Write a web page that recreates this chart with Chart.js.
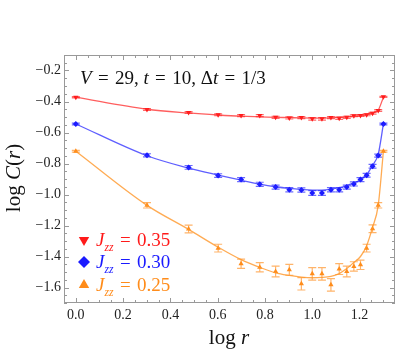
<!DOCTYPE html>
<html>
<head>
<meta charset="utf-8">
<script src="https://cdn.jsdelivr.net/npm/chart.js@4.4.1/dist/chart.umd.min.js"></script>
<style>
  html, body { margin: 0; padding: 0; background: #fff; }
</style>
</head>
<body>
<canvas id="corrChart" width="414" height="359"></canvas>
<script>
// x positions: log r for r = 1..20
const logR = [0, 0.301, 0.477, 0.602, 0.699, 0.778, 0.845, 0.903, 0.954, 1.0,
              1.041, 1.079, 1.114, 1.146, 1.176, 1.204, 1.230, 1.255, 1.279, 1.301];

// Jzz = 0.35 (red)
const redVals = [-0.372, -0.452, -0.471, -0.486, -0.491, -0.491, -0.502, -0.506, -0.504, -0.512,
                 -0.512, -0.504, -0.508, -0.502, -0.492, -0.490, -0.486, -0.476, -0.458, -0.370];
const redErr = [0.004, 0.006, 0.006, 0.006, 0.006, 0.006, 0.007, 0.007, 0.007, 0.008,
                0.008, 0.007, 0.007, 0.007, 0.006, 0.006, 0.006, 0.006, 0.006, 0.004];
const redFit = [-0.372, -0.450, -0.474, -0.487, -0.495, -0.499, -0.502, -0.504, -0.506, -0.507,
                -0.507, -0.505, -0.503, -0.500, -0.496, -0.491, -0.484, -0.472, -0.455, -0.372];

// Jzz = 0.30 (blue)
const blueVals = [-0.545, -0.747, -0.825, -0.878, -0.904, -0.934, -0.952, -0.969, -0.971, -0.990,
                  -0.990, -0.969, -0.969, -0.952, -0.932, -0.904, -0.876, -0.818, -0.749, -0.545];
const blueErr = [0.006, 0.010, 0.012, 0.012, 0.013, 0.013, 0.013, 0.014, 0.014, 0.015,
                 0.015, 0.014, 0.014, 0.013, 0.013, 0.013, 0.012, 0.012, 0.010, 0.006];
const blueFit = [-0.545, -0.750, -0.830, -0.875, -0.908, -0.933, -0.950, -0.961, -0.968, -0.972,
                 -0.972, -0.966, -0.956, -0.942, -0.925, -0.905, -0.872, -0.812, -0.740, -0.545];

// Jzz = 0.25 (orange)
const orangeVals = [-0.721, -1.070, -1.223, -1.346, -1.447, -1.469, -1.497, -1.486, -1.576, -1.512,
                    -1.512, -1.583, -1.481, -1.497, -1.464, -1.454, -1.346, -1.221, -1.070, -0.721];
const orangeErr = [0.006, 0.017, 0.025, 0.025, 0.030, 0.030, 0.035, 0.035, 0.040, 0.040,
                   0.040, 0.040, 0.035, 0.035, 0.030, 0.030, 0.025, 0.025, 0.017, 0.006];
const orangeFit = [-0.721, -1.070, -1.225, -1.340, -1.420, -1.470, -1.505, -1.522, -1.533, -1.537,
                   -1.535, -1.528, -1.510, -1.478, -1.438, -1.400, -1.330, -1.212, -1.070, -0.721];

const xTicks = [0, 0.2, 0.4, 0.6, 0.8, 1.0, 1.2];
const yTicks = [-1.6, -1.4, -1.2, -1.0, -0.8, -0.6, -0.4, -0.2];

const RED = '#ff1a1a', BLUE = '#1a1aff', ORANGE = '#ff8c1a';
const SERIF = '"Liberation Serif", "DejaVu Serif", serif';
const EQ = ' \u200a=\u200a ';

function pts(vals) {
  return logR.map((x, i) => ({ x: x, y: vals[i] }));
}

function fitSet(vals, color) {
  return { data: pts(vals), showLine: true, borderColor: color, borderWidth: 1.3,
           pointRadius: 0, cubicInterpolationMode: 'monotone', fill: false };
}

function dataSet(vals, err, color, style, rot) {
  return { data: pts(vals), err: err, showLine: false, backgroundColor: color, borderColor: color,
           pointStyle: style, rotation: rot, pointRadius: 3, borderWidth: 0 };
}

// draws text made of normal / italic pieces, starting at x
function drawRich(ctx, parts, x, y, size) {
  parts.forEach(p => {
    const sz = p.sub ? size * 0.62 : size;
    ctx.font = (p.i ? 'italic ' : '') + sz + 'px ' + SERIF;
    ctx.fillText(p.t, x, y + (p.sub ? size * 0.25 : 0));
    x += ctx.measureText(p.t).width;
  });
  return x;
}

function richWidth(ctx, parts, size) {
  let w = 0;
  parts.forEach(p => {
    const sz = p.sub ? size * 0.62 : size;
    ctx.font = (p.i ? 'italic ' : '') + sz + 'px ' + SERIF;
    w += ctx.measureText(p.t).width;
  });
  return w;
}

// error bars with caps, behind the markers
const errorBars = {
  id: 'errorBars',
  beforeDatasetsDraw(chart) {
    const ctx = chart.ctx, xs = chart.scales.x, ys = chart.scales.y;
    chart.data.datasets.forEach(ds => {
      if (!ds.err) return;
      ctx.save();
      ctx.strokeStyle = ds.borderColor;
      ctx.globalAlpha = 0.65;
      ctx.lineWidth = 1.2;
      ds.data.forEach((p, i) => {
        const px = xs.getPixelForValue(p.x);
        const top = ys.getPixelForValue(p.y + ds.err[i]);
        const bot = ys.getPixelForValue(p.y - ds.err[i]);
        ctx.beginPath();
        ctx.moveTo(px, top); ctx.lineTo(px, bot);
        ctx.moveTo(px - 4, top); ctx.lineTo(px + 4, top);
        ctx.moveTo(px - 4, bot); ctx.lineTo(px + 4, bot);
        ctx.stroke();
      });
      ctx.restore();
    });
  }
};

// frame with inside ticks, titles, note and legend
const decorations = {
  id: 'decorations',
  afterDraw(chart) {
    const ctx = chart.ctx, a = chart.chartArea, xs = chart.scales.x, ys = chart.scales.y;
    ctx.save();
    ctx.strokeStyle = '#999';
    ctx.lineWidth = 1;
    ctx.strokeRect(a.left + 0.5, a.top + 0.5, a.right - a.left - 1, a.bottom - a.top - 1);

    ctx.beginPath();
    for (let k = 0; k <= 26; k++) {
      const v = k * 0.05;
      const len = k % 4 === 0 ? 5 : 3;
      const px = Math.round(xs.getPixelForValue(v)) + 0.5;
      ctx.moveTo(px, a.bottom); ctx.lineTo(px, a.bottom - len);
      ctx.moveTo(px, a.top); ctx.lineTo(px, a.top + len);
    }
    for (let k = 2; k <= 34; k++) {
      const v = -k * 0.05;
      const len = k % 4 === 0 ? 5 : 3;
      const py = Math.round(ys.getPixelForValue(v)) + 0.5;
      ctx.moveTo(a.left, py); ctx.lineTo(a.left + len, py);
      ctx.moveTo(a.right, py); ctx.lineTo(a.right - len, py);
    }
    ctx.stroke();

    ctx.fillStyle = '#111';
    ctx.textBaseline = 'alphabetic';

    // x axis title
    const xt = [{ t: 'log ' }, { t: 'r', i: true }];
    drawRich(ctx, xt, 229 - richWidth(ctx, xt, 21) / 2, 344, 21);

    // y axis title
    const yt = [{ t: 'log ' }, { t: 'C', i: true }, { t: '(' }, { t: 'r', i: true }, { t: ')' }];
    ctx.save();
    ctx.translate(20, 178);
    ctx.rotate(-Math.PI / 2);
    drawRich(ctx, yt, -richWidth(ctx, yt, 21) / 2, 0, 21);
    ctx.restore();

    // parameter note
    drawRich(ctx, [{ t: 'V', i: true }, { t: EQ + '29, ' }, { t: 't', i: true }, { t: EQ + '10, Δ' },
                   { t: 't', i: true }, { t: EQ + '1/3' }], 80, 84, 19);

    // legend
    const items = [
      { color: RED, style: 'triangle', rot: 180, val: '0.35', y: 246 },
      { color: BLUE, style: 'rectRot', rot: 0, val: '0.30', y: 268 },
      { color: ORANGE, style: 'triangle', rot: 0, val: '0.25', y: 291 }
    ];
    items.forEach(it => {
      ctx.fillStyle = it.color;
      ctx.strokeStyle = it.color;
      Chart.helpers.drawPoint(ctx, { pointStyle: it.style, rotation: it.rot, radius: 6, borderWidth: 0 },
                              84, it.y - 6);
      ctx.fillStyle = it.color;
      drawRich(ctx, [{ t: 'J', i: true }, { t: 'zz', i: true, sub: true }, { t: EQ + it.val }],
               96, it.y, 19);
    });
    ctx.restore();
  }
};

new Chart(document.getElementById('corrChart'), {
  type: 'scatter',
  data: {
    datasets: [
      fitSet(redFit, 'rgba(255,40,40,0.75)'),
      fitSet(blueFit, 'rgba(40,40,255,0.75)'),
      fitSet(orangeFit, 'rgba(255,150,40,0.8)'),
      dataSet(redVals, redErr, RED, 'triangle', 180),
      dataSet(blueVals, blueErr, BLUE, 'rectRot', 0),
      dataSet(orangeVals, orangeErr, ORANGE, 'triangle', 0)
    ]
  },
  options: {
    responsive: false,
    devicePixelRatio: 1,
    animation: false,
    layout: { padding: { top: 55, right: 19, left: 0, bottom: 0 } },
    plugins: { legend: { display: false }, tooltip: { enabled: false } },
    scales: {
      x: {
        type: 'linear', min: -0.05, max: 1.35,
        grid: { display: false, drawTicks: false },
        border: { display: false },
        afterBuildTicks: s => { s.ticks = xTicks.map(v => ({ value: v })); },
        afterFit: s => { s.height = 56; },
        ticks: { padding: 4, color: '#222', font: { family: SERIF, size: 14 },
                 callback: v => v.toFixed(1) }
      },
      y: {
        type: 'linear', min: -1.7, max: -0.1,
        grid: { display: false, drawTicks: false },
        border: { display: false },
        afterBuildTicks: s => { s.ticks = yTicks.map(v => ({ value: v })); },
        afterFit: s => { s.width = 64; },
        ticks: { padding: 3, color: '#222', font: { family: SERIF, size: 14 },
                 callback: v => '\u2212' + Math.abs(v).toFixed(1) }
      }
    }
  },
  plugins: [errorBars, decorations]
});
</script>
</body>
</html>
